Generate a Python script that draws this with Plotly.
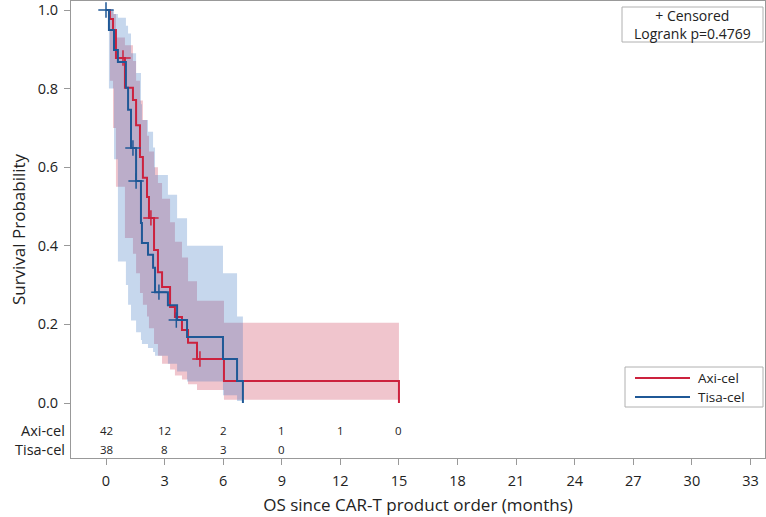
import plotly.graph_objects as go

# ---------------- data ----------------
# Axi-cel Kaplan-Meier steps: time of drop (months) and survival after the drop
axi_t = [0.20, 0.36, 0.51, 0.97, 1.38, 1.54, 1.74, 1.89, 2.10, 2.20, 2.46, 2.66,
         2.87, 3.28, 3.53, 3.89, 4.20, 4.66, 6.04, 15.0]
axi_s = [0.977, 0.949, 0.878, 0.802, 0.771, 0.707, 0.626, 0.573, 0.524, 0.471,
         0.389, 0.333, 0.295, 0.244, 0.219, 0.186, 0.153, 0.112, 0.056, 0.0]
axi_lo = [0.82, 0.70, 0.55, 0.42, 0.38, 0.33, 0.28, 0.25, 0.22, 0.19, 0.15, 0.12,
          0.10, 0.085, 0.07, 0.06, 0.048, 0.033, 0.008]
axi_hi = [0.997, 0.99, 0.93, 0.91, 0.87, 0.82, 0.77, 0.72, 0.68, 0.64, 0.60, 0.56,
          0.52, 0.46, 0.41, 0.37, 0.31, 0.26, 0.204]
axi_cens_t = [0.87, 2.30, 4.81]
axi_cens_s = [0.878, 0.471, 0.112]

# Tisa-cel Kaplan-Meier steps
tisa_t = [0.15, 0.41, 0.61, 1.02, 1.13, 1.28, 1.54, 1.79, 1.84, 2.15, 2.41, 2.51,
          3.17, 3.64, 4.15, 5.99, 6.71, 7.01]
tisa_s = [0.949, 0.898, 0.868, 0.802, 0.746, 0.649, 0.565, 0.458, 0.407, 0.377,
          0.344, 0.282, 0.249, 0.211, 0.168, 0.112, 0.056, 0.0]
tisa_lo = [0.80, 0.62, 0.36, 0.30, 0.25, 0.21, 0.18, 0.16, 0.15, 0.14, 0.13, 0.12,
           0.10, 0.08, 0.055, 0.02, 0.005]
tisa_hi = [1.0, 0.99, 0.98, 0.96, 0.94, 0.89, 0.84, 0.76, 0.72, 0.69, 0.65, 0.58,
           0.53, 0.47, 0.40, 0.33, 0.22]
tisa_cens_t = [0.0, 1.38, 1.54, 2.71, 3.60]
tisa_cens_s = [1.0, 0.649, 0.565, 0.282, 0.211]

# numbers at risk
risk_times = [0, 3, 6, 9, 12, 15]
axi_risk = [42, 12, 2, 1, 1, 0]
tisa_risk = [38, 8, 3, 0]

x_ticks = list(range(0, 34, 3))
y_ticks = [0.0, 0.2, 0.4, 0.6, 0.8, 1.0]

RED = "rgb(204,34,62)"
BLUE = "rgb(31,88,150)"
RED_BAND = "rgba(200,40,70,0.27)"
BLUE_BAND = "rgba(50,110,190,0.28)"
FONT = "Open Sans"
TXT = "#222"

fig = go.Figure()


def add_band(times, lo, hi, color):
    bx = [0.0] + times
    fig.add_trace(go.Scatter(x=bx, y=[1.0] + hi + [hi[-1]], mode="lines",
                             line=dict(width=0, shape="hv"), hoverinfo="skip",
                             showlegend=False))
    fig.add_trace(go.Scatter(x=bx, y=[1.0] + lo + [lo[-1]], mode="lines",
                             line=dict(width=0, shape="hv"), fill="tonexty",
                             fillcolor=color, hoverinfo="skip", showlegend=False))


add_band(axi_t, axi_lo, axi_hi, RED_BAND)
add_band(tisa_t, tisa_lo, tisa_hi, BLUE_BAND)

for name, t, s, ct, cs, col in [("Axi-cel", axi_t, axi_s, axi_cens_t, axi_cens_s, RED),
                                 ("Tisa-cel", tisa_t, tisa_s, tisa_cens_t, tisa_cens_s, BLUE)]:
    fig.add_trace(go.Scatter(x=[0.0] + t, y=[1.0] + s, mode="lines", name=name,
                             line=dict(color=col, width=2, shape="hv"), showlegend=False))
    fig.add_trace(go.Scatter(x=ct, y=cs, mode="markers", showlegend=False,
                             marker=dict(symbol="cross-thin", size=11,
                                         line=dict(color=col, width=1.5))))

# plot area in pixels: x 71..765, y 1..458
W, H = 766, 517
L, R, T, B = 71, 1, 1, 59
PW, PH = W - L - R, H - T - B


def px(xp):
    return (xp - L) / PW


def py(yp):
    return (H - B - yp) / PH


def txt(x, y, text, size, xanchor="center", xref="paper", align="center"):
    return dict(x=x, y=y, xref=xref, yref="paper", text=text, showarrow=False,
                xanchor=xanchor, yanchor="middle", align=align, borderpad=0,
                font=dict(size=size, color=TXT, family=FONT))


ann = []
# numbers at risk
for t, v in zip(risk_times, axi_risk):
    ann.append(txt(t, py(430), str(v), 11.5, xref="x"))
for t, v in zip(risk_times, tisa_risk):
    ann.append(txt(t, py(449), str(v), 11.5, xref="x"))
for lab, yy in [("Axi-cel", 430), ("Tisa-cel", 449)]:
    ann.append(txt(px(66), py(yy), lab, 14.5, xanchor="right"))

# inset box (top right)
ann.append(txt(px(692.5), py(24), "+ Censored<br>Logrank p=0.4769", 14))

# legend (bottom right)
legend_rows = [("Axi-cel", RED, 378), ("Tisa-cel", BLUE, 397)]
shapes = [
    dict(type="rect", xref="paper", yref="paper", x0=px(622), x1=px(763),
         y0=py(7), y1=py(42), line=dict(color="#b0b0b0", width=1), fillcolor="white",
         layer="below"),
    dict(type="rect", xref="paper", yref="paper", x0=px(625), x1=px(763),
         y0=py(367), y1=py(407), line=dict(color="#b0b0b0", width=1), fillcolor="white",
         layer="below"),
]
for lab, col, yy in legend_rows:
    shapes.append(dict(type="line", xref="paper", yref="paper", x0=px(635), x1=px(690),
                       y0=py(yy), y1=py(yy), line=dict(color=col, width=2), layer="above"))
    ann.append(txt(px(697), py(yy), lab, 13.5, xanchor="left"))

fig.update_layout(
    width=W, height=H, margin=dict(l=L, r=R, t=T, b=B, autoexpand=False),
    paper_bgcolor="white", plot_bgcolor="white",
    font=dict(family=FONT, color=TXT),
    shapes=shapes, annotations=ann, showlegend=False,
    xaxis=dict(range=[(71 - 106) / 19.53, (765 - 106) / 19.53], tickvals=x_ticks,
               automargin=False,
               ticks="outside", ticklen=6, tickcolor="#999", showgrid=False, zeroline=False,
               showline=True, linecolor="#999", linewidth=1, mirror=True,
               tickfont=dict(size=14.5, family=FONT, color=TXT), ticklabelstandoff=4,
               title=dict(text="OS since CAR-T product order (months)", standoff=9,
                          font=dict(size=17, family=FONT, color=TXT))),
    yaxis=dict(range=[-(458 - 403) / 393, 1 + 9 / 393], tickvals=y_ticks,
               automargin=False,
               ticktext=[f"{v:.1f}" for v in y_ticks],
               ticks="outside", ticklen=6, tickcolor="#999", showgrid=False, zeroline=False,
               showline=True, linecolor="#999", linewidth=1, mirror=True,
               tickfont=dict(size=14.5, family=FONT, color=TXT), ticklabelstandoff=3,
               title=dict(text="Survival Probability", standoff=7,
                          font=dict(size=17, family=FONT, color=TXT))),
)

# remove the browser's default 8px page margin so the figure fills the window
fig.write_html("out.html", config={"displayModeBar": False},
               post_script="document.body.style.margin='0';")
